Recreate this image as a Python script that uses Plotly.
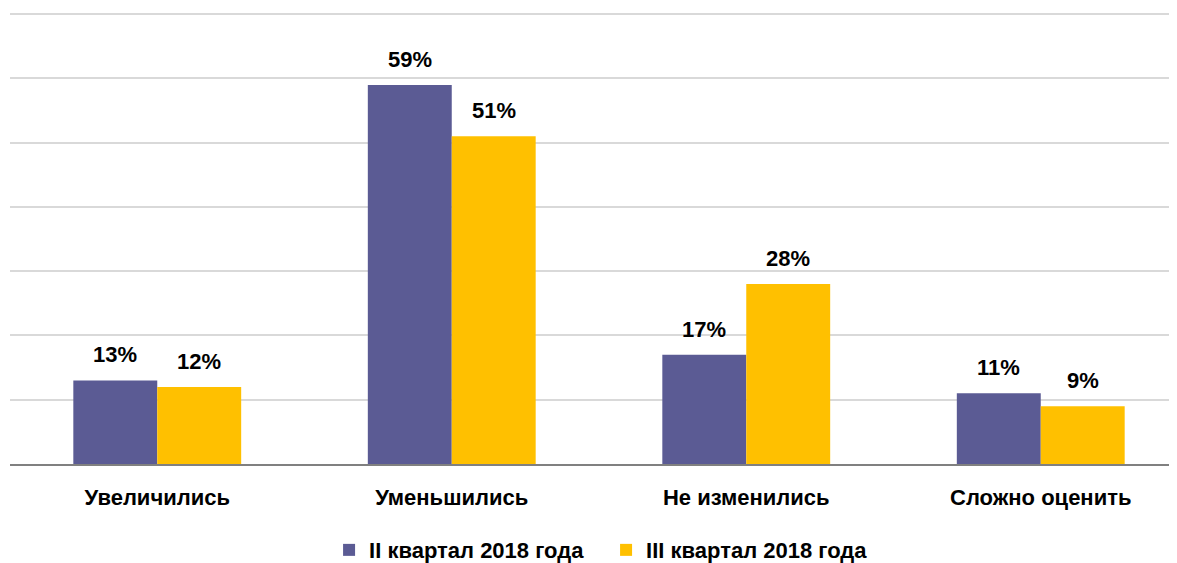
import plotly.graph_objects as go

categories = ["Увеличились", "Уменьшились", "Не изменились", "Сложно оценить"]
series_names = ["II квартал 2018 года", "III квартал 2018 года"]
q2_values = [13, 59, 17, 11]
q3_values = [12, 51, 28, 9]
colors = ["#5B5B94", "#FFC000"]

FONT = "Liberation Sans, Arial, sans-serif"
BARGAP = 0.43

fig = go.Figure()
series = [q2_values, q3_values]
for name, vals, col in zip(series_names, series, colors):
    fig.add_trace(go.Bar(
        x=categories, y=vals, name=name, marker_color=col,
        marker_line_width=0,
    ))

# value labels above bars
n = len(series)
bw = (1 - BARGAP) / n
for s, vals in enumerate(series):
    off = -(1 - BARGAP) / 2 + bw * (s + 0.5)
    for i, v in enumerate(vals):
        fig.add_annotation(
            x=i + off, y=v, xref="x", yref="y", text=f"{v}%",
            showarrow=False, yanchor="bottom", xanchor="center", yshift=11,
            font=dict(family=FONT, size=22, color="#000000", weight="bold"),
        )

fig.update_layout(
    width=1180, height=563,
    margin=dict(l=2, r=0, t=3, b=107, autoexpand=False),
    plot_bgcolor="white", paper_bgcolor="white",
    barmode="group", bargap=BARGAP, bargroupgap=0,
    font=dict(family=FONT, size=22, color="#000000", weight="bold"),
    showlegend=True,
    legend=dict(orientation="h", x=0.506, xanchor="center", y=-0.19, yanchor="middle",
                font=dict(family=FONT, size=22, color="#000000", weight="bold"),
                itemwidth=30, entrywidth=232, traceorder="normal"),
)
fig.update_xaxes(showline=True, linecolor="#808080", linewidth=1.5, automargin=False,
                 tickfont=dict(family=FONT, size=22, color="#000000", weight="bold"),
                 ticks="", ticklabelstandoff=13)
fig.update_yaxes(range=[0, 70.5], dtick=10, showgrid=True, gridcolor="#D9D9D9",
                 gridwidth=1.5, showticklabels=False, zeroline=False, ticks="",
                 automargin=False)

fig.write_html("out.html")
